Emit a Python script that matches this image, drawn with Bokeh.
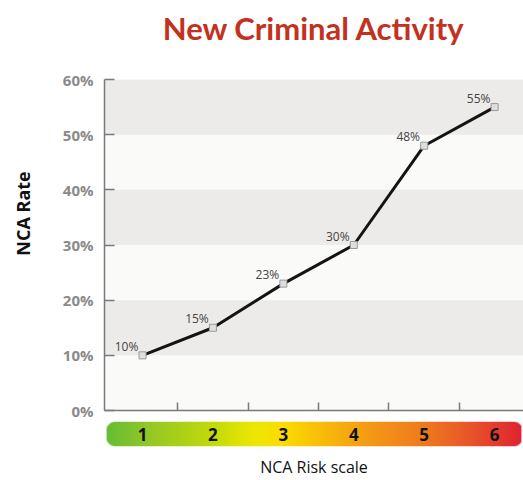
import numpy as np
from bokeh.plotting import figure
from bokeh.models import Range1d, FixedTicker, PrintfTickFormatter, ColumnDataSource, LabelSet
from bokeh.layouts import column, row
from bokeh.embed import file_html
from bokeh.resources import INLINE
from bokeh.core.properties import value

# ---- data ----
risk_levels = [1, 2, 3, 4, 5, 6]
nca_rates = [10, 15, 23, 30, 48, 55]
rate_labels = [f"{v}%" for v in nca_rates]
scale_labels = [str(v) for v in risk_levels]
y_ticks = [0, 10, 20, 30, 40, 50, 60]
x_ticks = [(a + b) / 2 for a, b in zip(risk_levels[:-1], risk_levels[1:])]

TFONT = "Lato"
FONT = "Open Sans"
LW = 40            # width of the strip holding the y-axis title
W = 523 - LW
LEFT = 104 - LW
H = 480
x_range = Range1d(0.46, 6.41)
y_range = Range1d(0, 60)

# ---- y-axis title strip ----
pl = figure(width=LW, height=H, x_range=Range1d(0, LW), y_range=Range1d(H, 0),
            output_backend="svg", toolbar_location=None,
            min_border_left=0, min_border_right=0, min_border_top=0, min_border_bottom=0)
pl.axis.visible = False
pl.grid.visible = False
pl.outline_line_color = None
pl.background_fill_color = "white"
pl.text(x=[22], y=[213], text=["NCA Rate"], angle=np.pi / 2, text_align="center",
        text_baseline="middle", text_font=value(FONT), text_font_style="bold",
        text_font_size="18px", text_color="#111111")

# ---- title strip ----
p0 = figure(width=W, height=52, x_range=x_range, y_range=Range1d(0, 1),
            output_backend="svg", toolbar_location=None,
            min_border_left=LEFT, min_border_right=0, min_border_top=0, min_border_bottom=0)
p0.axis.visible = False
p0.grid.visible = False
p0.outline_line_color = None
p0.background_fill_color = "white"
p0.title.text = "New Criminal Activity"
p0.title.align = "center"
p0.title.text_font = TFONT
p0.title.text_font_size = "31px"
p0.title.text_font_style = "bold"
p0.title.text_color = "#c33120"
p0.title.standoff = 12

# ---- main chart ----
p = figure(width=W, height=369, x_range=x_range, y_range=y_range,
           output_backend="svg", toolbar_location=None,
           min_border_left=LEFT, min_border_right=0, min_border_top=27, min_border_bottom=11)
p.background_fill_color = "#fafaf9"
p.border_fill_color = "white"
p.outline_line_color = None
p.xgrid.visible = False
p.ygrid.grid_line_color = None
p.ygrid.band_fill_color = "#edebe9"
p.ygrid.band_fill_alpha = 1.0

p.yaxis.ticker = FixedTicker(ticks=y_ticks)
p.yaxis.formatter = PrintfTickFormatter(format="%d%%")
p.yaxis.major_label_text_font = FONT
p.yaxis.major_label_text_font_style = "bold"
p.yaxis.major_label_text_font_size = "15px"
p.yaxis.major_label_text_color = "#8a8a8a"
p.yaxis.major_label_standoff = 11
p.yaxis.major_tick_in = 10
p.yaxis.major_tick_out = 0
p.yaxis.minor_tick_line_color = None
p.yaxis.axis_line_color = "#7a7a7a"
p.yaxis.axis_line_width = 1.5
p.yaxis.major_tick_line_color = "#7a7a7a"
p.yaxis.major_tick_line_width = 1.5

p.xaxis.ticker = FixedTicker(ticks=x_ticks)
p.xaxis.major_label_overrides = {t: "" for t in x_ticks}
p.xaxis.major_label_standoff = 0
p.xaxis.major_tick_in = 8
p.xaxis.major_tick_out = 0
p.xaxis.minor_tick_line_color = None
p.xaxis.axis_line_color = "#7a7a7a"
p.xaxis.axis_line_width = 1.5
p.xaxis.major_tick_line_color = "#7a7a7a"
p.xaxis.major_tick_line_width = 1.5

src = ColumnDataSource(dict(x=risk_levels, y=nca_rates, label=rate_labels))
p.line("x", "y", source=src, line_color="#141414", line_width=3)
p.scatter("x", "y", source=src, marker="square", size=7,
          fill_color="#dedede", line_color="#9a9a9a", line_width=1)
p.add_layout(LabelSet(x="x", y="y", text="label", source=src,
                      x_offset=-16, y_offset=9, text_align="center",
                      text_baseline="middle", text_font=value(FONT),
                      text_font_size="12px", text_color="#444444"))

# ---- colour scale bar ----
p2 = figure(width=W, height=59, x_range=x_range, y_range=Range1d(0, 1),
            output_backend="svg", toolbar_location=None,
            min_border_left=LEFT, min_border_right=0, min_border_top=0, min_border_bottom=31)
p2.outline_line_color = None
p2.background_fill_color = "white"
p2.grid.visible = False
p2.yaxis.visible = False
p2.xaxis.ticker = FixedTicker(ticks=[])
p2.xaxis.major_label_standoff = 0
p2.xaxis.major_tick_line_color = None
p2.xaxis.minor_tick_line_color = None
p2.xaxis.axis_line_color = None
p2.xaxis.axis_label = "NCA Risk scale"
p2.xaxis.axis_label_text_font = FONT
p2.xaxis.axis_label_text_font_size = "16px"
p2.xaxis.axis_label_text_font_style = "normal"
p2.xaxis.axis_label_text_color = "#111111"
p2.xaxis.axis_label_standoff = 9

bar_x0, bar_x1 = 0.49, 6.38
nx, ny, rad = 420, 28, 9.0
stops_x = [0.49, 1.0, 2.0, 2.6, 3.0, 3.6, 4.2, 5.0, 5.7, 6.38]
stops_c = ["#66bd33", "#8ec62a", "#c4da0a", "#eee800", "#fbdc00",
           "#f8b90a", "#f49a15", "#ef7a1f", "#e8522a", "#df2331"]
rgb = np.array([[int(c[i:i + 2], 16) for i in (1, 3, 5)] for c in stops_c], dtype=float)
xs = np.linspace(bar_x0, bar_x1, nx)
chan = [np.interp(xs, stops_x, rgb[:, k]) for k in range(3)]
img = np.zeros((ny, nx), dtype=np.uint32)
view = img.view(dtype=np.uint8).reshape((ny, nx, 4))
px = np.arange(nx) + 0.5
py = np.arange(ny) + 0.5
PX, PY = np.meshgrid(px, py)
cx = np.clip(PX, rad, nx - rad)
cy = np.clip(PY, rad, ny - rad)
d = np.sqrt((PX - cx) ** 2 + (PY - cy) ** 2)
alpha = np.clip(rad + 0.5 - d, 0, 1)
for k in range(3):
    view[:, :, k] = chan[k][None, :].astype(np.uint8)
view[:, :, 3] = (alpha * 255).astype(np.uint8)
p2.image_rgba(image=[img], x=bar_x0, y=0, dw=bar_x1 - bar_x0, dh=1)

p2.text(x=risk_levels, y=[0.5] * len(risk_levels), text=scale_labels,
        text_align="center", text_baseline="middle", text_font=value(FONT),
        text_font_style="bold", text_font_size="17px", text_color="#111111")

layout = row(pl, column(p0, p, p2, spacing=0), spacing=0)
open("out.html", "w").write(file_html(layout, INLINE))
